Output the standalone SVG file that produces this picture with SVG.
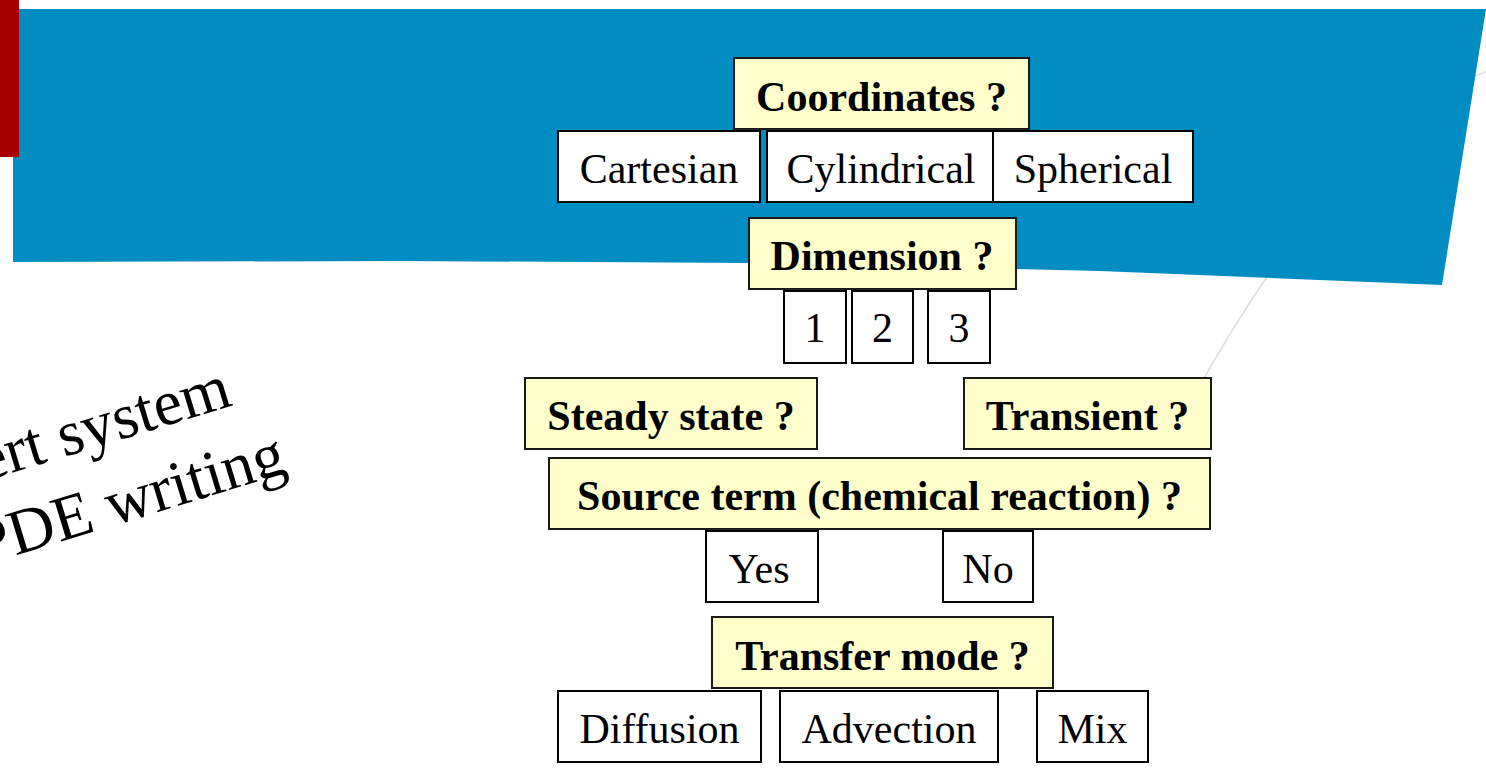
<svg xmlns="http://www.w3.org/2000/svg" width="1486" height="772" viewBox="0 0 1486 772">
<style>
.q rect{fill:#FFFFCC;stroke:#1a1a1a;stroke-width:2}
.a rect{fill:#FFFFFF;stroke:#000;stroke-width:2}
text{font-family:"Liberation Serif","Times New Roman",serif;font-size:42px;fill:#000;text-anchor:middle}
.q text{font-weight:bold}
.side{font-size:64px;text-anchor:end}
</style>
<rect width="1486" height="772" fill="#FFFFFF"/>
<g id="background">
<path d="M1490,70 Q1350,120 1200,385" fill="none" stroke="#dcdcdc" stroke-width="1.5"/>
<path d="M13,9 L1486,9 L1442,285 L1100,271 L750,263 L400,261 L13,262 Z" fill="#018DC2"/>
<rect x="0" y="0" width="19" height="157" fill="#A80000"/>
</g>
<g id="title" transform="translate(234,405) rotate(-17)">
<text class="side" x="0" y="0">ert system</text>
<text class="side" x="33" y="80">PDE writing</text>
</g>
<g id="connectors"></g>
<g id="coordinates" class="q"><rect x="734" y="58" width="295" height="71"/><text x="881.5" y="111">Coordinates ?</text></g>
<g id="cartesian" class="a"><rect x="558" y="131" width="202" height="71"/><text x="659" y="183">Cartesian</text></g>
<g id="cylindrical" class="a"><rect x="767" y="131" width="226" height="71"/><text x="881" y="183">Cylindrical</text></g>
<g id="spherical" class="a"><rect x="993" y="131" width="200" height="71"/><text x="1093" y="183">Spherical</text></g>
<g id="dimension" class="q"><rect x="749" y="218" width="267" height="71"/><text x="882" y="270">Dimension ?</text></g>
<g id="dim1" class="a"><rect x="784" y="291" width="62" height="72"/><text x="815" y="342">1</text></g>
<g id="dim2" class="a"><rect x="852" y="291" width="61" height="72"/><text x="882.5" y="342">2</text></g>
<g id="dim3" class="a"><rect x="928" y="291" width="62" height="72"/><text x="959" y="342">3</text></g>
<g id="steady" class="q"><rect x="525" y="378" width="292" height="71"/><text x="671" y="430">Steady state ?</text></g>
<g id="transient" class="q"><rect x="964" y="378" width="247" height="71"/><text x="1087.5" y="430">Transient ?</text></g>
<g id="source" class="q"><rect x="549" y="458" width="661" height="71"/><text x="879.5" y="510">Source term (chemical reaction) ?</text></g>
<g id="yes" class="a"><rect x="706" y="531" width="112" height="71"/><text x="759" y="583">Yes</text></g>
<g id="no" class="a"><rect x="943" y="531" width="90" height="71"/><text x="988" y="583">No</text></g>
<g id="transfer" class="q"><rect x="712" y="617" width="341" height="71"/><text x="882.5" y="670">Transfer mode ?</text></g>
<g id="diffusion" class="a"><rect x="558" y="691" width="203" height="71"/><text x="659.5" y="743">Diffusion</text></g>
<g id="advection" class="a"><rect x="780" y="691" width="218" height="71"/><text x="889" y="743">Advection</text></g>
<g id="mix" class="a"><rect x="1037" y="691" width="111" height="71"/><text x="1092.5" y="743">Mix</text></g>
</svg>
